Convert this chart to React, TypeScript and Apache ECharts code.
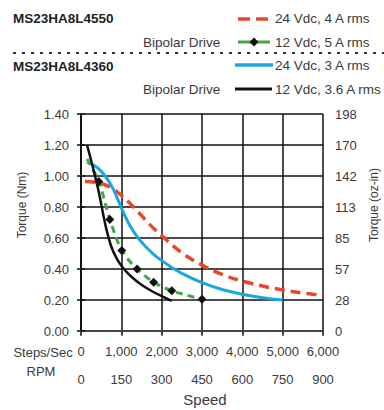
import React, { useEffect, useRef } from "react";
import * as echarts from "echarts";

// Steps/sec vs torque (Nm)
const red24V4A: [number, number][] = [
  [100, 0.965], [450, 0.955], [750, 0.925], [1000, 0.875], [1300, 0.8], [1750, 0.675],
  [2000, 0.615], [2500, 0.505], [3000, 0.425], [3500, 0.365], [4000, 0.322], [4500, 0.29],
  [5000, 0.265], [5500, 0.245], [6000, 0.23],
];
const green12V5A: [number, number][] = [
  [150, 1.11], [440, 0.965], [716, 0.72], [1010, 0.52], [1390, 0.4], [1800, 0.315],
  [2250, 0.26], [3000, 0.205],
];
const blue24V3A: [number, number][] = [
  [150, 1.09], [400, 1.055], [600, 1.0], [800, 0.915], [1000, 0.795], [1200, 0.685],
  [1400, 0.605], [1600, 0.545], [1800, 0.495], [2000, 0.455], [2250, 0.41], [2500, 0.372],
  [3000, 0.312], [3500, 0.268], [4000, 0.237], [4500, 0.215], [5000, 0.2],
];
const black12V36A: [number, number][] = [
  [150, 1.2], [300, 1.05], [450, 0.885], [600, 0.69], [750, 0.545], [900, 0.46],
  [1050, 0.405], [1250, 0.35], [1500, 0.298], [1750, 0.258], [2000, 0.225], [2250, 0.195],
];
const ozInLabels = ["0", "28", "57", "85", "113", "142", "170", "198"];
const seriesNames = ["24 Vdc, 4 A rms", "12 Vdc, 5 A rms", "24 Vdc, 3 A rms", "12 Vdc, 3.6 A rms"];
const modelNames = ["MS23HA8L4550", "MS23HA8L4360"];

const FONT = "'Liberation Sans', Arial, Helvetica, sans-serif";
const RED = "#e8472b";
const GREEN = "#3fa845";
const BLUE = "#1aa7dd";
const BLACK = "#111111";
const TXT = "#3a3a3a";

export default function App() {
  const ref = useRef<HTMLDivElement>(null);
  useEffect(() => {
    if (!ref.current) return;
    const chart = echarts.init(ref.current, undefined, { renderer: "svg" });
    const txt = (text: string, x: number, y: number, extra: any = {}, rotation = 0) => ({
      type: "text",
      x,
      y,
      rotation,
      style: {
        text,
        fill: TXT,
        fontFamily: FONT,
        fontSize: 13.5,
        align: "left",
        verticalAlign: "middle",
        ...extra,
      },
    });
    const option: any = {
      animation: false,
      textStyle: { fontFamily: FONT },
      grid: { left: 81, top: 114, width: 242, height: 217 },
      xAxis: [
        {
          type: "value",
          min: 0,
          max: 6000,
          interval: 1000,
          position: "bottom",
          axisLine: { show: true, lineStyle: { color: BLACK, width: 1.5 } },
          axisTick: { show: true, length: 4, lineStyle: { color: BLACK, width: 1.5 } },
          splitLine: { show: true, lineStyle: { color: BLACK, width: 1.5 } },
          axisLabel: {
            fontSize: 13,
            color: TXT,
            margin: 14,
            fontFamily: FONT,
            formatter: (v: number) => v.toLocaleString("en-US"),
          },
        },
        {
          type: "value",
          min: 0,
          max: 900,
          interval: 150,
          position: "bottom",
          offset: 31,
          axisLine: { show: true, lineStyle: { color: "#444", width: 2 } },
          axisTick: { show: true, length: 5, lineStyle: { color: "#444", width: 1.5 } },
          splitLine: { show: false },
          axisLabel: { fontSize: 13, color: TXT, margin: 11, fontFamily: FONT },
        },
      ],
      yAxis: [
        {
          type: "value",
          min: 0,
          max: 1.4,
          interval: 0.2,
          position: "left",
          axisLine: { show: true, lineStyle: { color: BLACK, width: 1.5 } },
          axisTick: { show: true, length: 4, lineStyle: { color: BLACK, width: 1.5 } },
          splitLine: { show: true, lineStyle: { color: BLACK, width: 1.5 } },
          axisLabel: {
            fontSize: 13,
            color: TXT,
            margin: 12,
            fontFamily: FONT,
            formatter: (v: number) => v.toFixed(2),
          },
        },
        {
          type: "value",
          min: 0,
          max: 1.4,
          interval: 0.2,
          position: "right",
          axisLine: { show: true, lineStyle: { color: BLACK, width: 1.5 } },
          axisTick: { show: true, length: 4, lineStyle: { color: BLACK, width: 1.5 } },
          splitLine: { show: false },
          axisLabel: {
            fontSize: 13,
            color: TXT,
            margin: 12,
            fontFamily: FONT,
            formatter: (v: number) => ozInLabels[Math.round(v / 0.2)] ?? "",
          },
        },
      ],
      series: [
        {
          name: seriesNames[0],
          type: "line",
          data: red24V4A,
          smooth: 0.4,
          showSymbol: false,
          symbol: "none",
          lineStyle: { color: RED, width: 3.5, type: [10, 6] },
          z: 2,
        },
        {
          name: seriesNames[2],
          type: "line",
          data: blue24V3A,
          smooth: 0.4,
          showSymbol: false,
          symbol: "none",
          lineStyle: { color: BLUE, width: 3 },
          z: 3,
        },
        {
          name: seriesNames[1],
          type: "line",
          data: green12V5A.map((p, i) => (i === 0 ? { value: p, symbol: "none" } : { value: p })),
          smooth: 0.3,
          symbol: "diamond",
          symbolSize: 9,
          showAllSymbol: true,
          itemStyle: { color: BLACK, borderWidth: 0 },
          lineStyle: { color: GREEN, width: 3, type: [7, 5] },
          z: 4,
        },
        {
          name: seriesNames[3],
          type: "line",
          data: black12V36A,
          smooth: 0.4,
          showSymbol: false,
          symbol: "none",
          lineStyle: { color: BLACK, width: 2.5 },
          z: 5,
        },
      ],
      graphic: [
        txt(modelNames[0], 13, 18, { fontWeight: "bold", fill: "#222" }),
        txt("Bipolar Drive", 143, 42),
        {
          type: "line",
          shape: { x1: 13, y1: 53, x2: 384, y2: 53 },
          style: { stroke: "#333", lineWidth: 2, lineDash: [3, 6] },
        },
        txt(modelNames[1], 13, 66, { fontWeight: "bold", fill: "#222" }),
        txt("Bipolar Drive", 143, 89),
        {
          type: "line",
          shape: { x1: 238, y1: 19, x2: 270, y2: 19 },
          style: { stroke: RED, lineWidth: 3.5, lineDash: [12, 6] },
        },
        txt(seriesNames[0], 275, 18),
        {
          type: "line",
          shape: { x1: 238, y1: 42, x2: 270, y2: 42 },
          style: { stroke: GREEN, lineWidth: 3 },
        },
        {
          type: "polygon",
          shape: { points: [[254, 37.5], [258.5, 42], [254, 46.5], [249.5, 42]] },
          style: { fill: BLACK },
        },
        txt(seriesNames[1], 275, 42),
        {
          type: "line",
          shape: { x1: 235, y1: 65, x2: 273, y2: 65 },
          style: { stroke: BLUE, lineWidth: 3.5 },
        },
        txt(seriesNames[2], 275, 65),
        {
          type: "line",
          shape: { x1: 235, y1: 89, x2: 272, y2: 89 },
          style: { stroke: BLACK, lineWidth: 3 },
        },
        txt(seriesNames[3], 275, 89),
        txt("Torque (Nm)", 22, 205, { align: "center", fontSize: 12 }, Math.PI / 2),
        txt("Torque (oz-in)", 374, 205, { align: "center", fontSize: 12 }, Math.PI / 2),
        txt("Steps/Sec", 43, 352, { align: "center", fontSize: 13 }),
        txt("RPM", 41, 371, { align: "center", fontSize: 13 }),
        txt("Speed", 205, 399, { align: "center", fontSize: 15 }),
      ],
    };
    chart.setOption(option);
    return () => chart.dispose();
  }, []);
  return (
    <div
      ref={ref}
      style={{ position: "absolute", left: 0, top: 0, width: 384, height: 410, background: "#fff" }}
    />
  );
}
